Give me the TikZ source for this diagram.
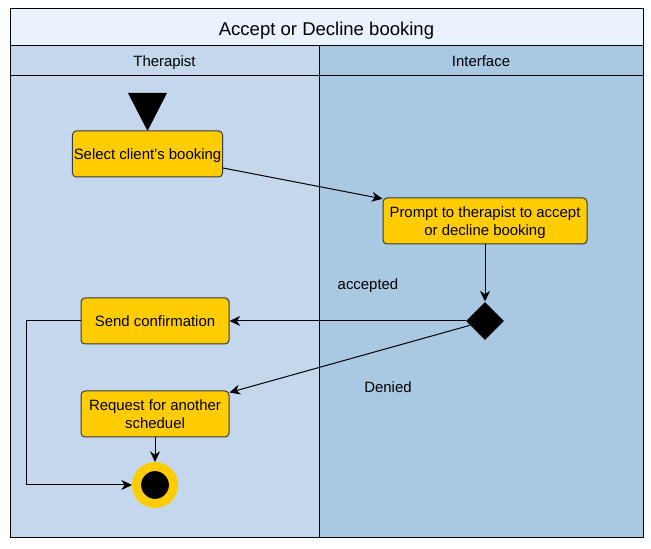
\documentclass[tikz,border=0pt]{standalone}
\usepackage{fontspec}
\setmainfont{Liberation Sans}
\usetikzlibrary{shapes.geometric,arrows.meta}
\definecolor{titlefill}{HTML}{EAF2FD}
\definecolor{lanea}{HTML}{C4D7EC}
\definecolor{laneb}{HTML}{A9C8E2}
\definecolor{actfill}{HTML}{FFCC00}
\definecolor{edgegray}{HTML}{36393D}

\begin{document}
\begin{tikzpicture}[x=0.75pt,y=-0.75pt,line width=0.75pt,
    txt/.style={font=\fontsize{11.2}{13.5}\selectfont,text depth=0pt},
    act/.style={txt,draw=edgegray,fill=actfill,rounded corners=3pt,align=center,
      minimum width=111pt,minimum height=34.5pt,inner sep=1pt},
    flow/.style={-{Stealth[length=8pt,width=7.5pt,inset=2.5pt]}}]
      \useasboundingbox (0,0) rectangle (651,549);

      % swimlanes
      \fill[lanea] (10,46) rectangle (319,538);
      \fill[laneb] (319,46) rectangle (643,538);
      \fill[titlefill] (10,9) rectangle (643,46);
      \draw (10,9) rectangle (643,538);
      \draw (10,46) -- (643,46);
      \draw (10,76) -- (643,76);
      \draw (319,46) -- (319,538);
      \node[font=\fontsize{13.9}{16}\selectfont,text depth=0pt] (title) at (326.5,28.5) {Accept or Decline booking};
      \node[txt] (lane1) at (164.5,61.5) {Therapist};
      \node[txt] (lane2) at (481,61.5) {Interface};

      % start
      \fill (128,93) -- (167,93) -- (147.5,131) -- cycle;

      \node[act] (select) at (147.5,154) {Select client's booking};
      \node[act,minimum width=153pt] (prompt) at (485,221) {Prompt to therapist to accept\\or decline booking};
      \node[diamond,fill=black,inner sep=0pt,minimum width=28.5pt,minimum height=28.5pt] (choice) at (485,321) {};
      \node[act] (confirm) at (155,321) {Send confirmation};
      \node[act] (request) at (155,414) {Request for another\\scheduel};
      \node[circle,fill=black,draw=actfill,line width=6.75pt,inner sep=0pt,minimum size=27.75pt] (stop) at (155,485) {};

      \node[txt] (accepted) at (368,284) {accepted};
      \node[txt] (denied) at (388,387) {Denied};

      \path [flow] ([yshift=-10.5pt]select.east) edge ([yshift=-1pt]prompt.north west);
      \path [flow] (prompt.south) edge (choice.north);
      \path [flow] (choice.west) edge (confirm.east);
      \path [flow] (choice.196) edge ([yshift=-1.5pt]request.north east);
      \path [flow] (request.south) edge (stop.north);
      \draw [flow] (confirm.west) -- ++(-54,0) |- (stop.west);
    \end{tikzpicture}
\end{document}
